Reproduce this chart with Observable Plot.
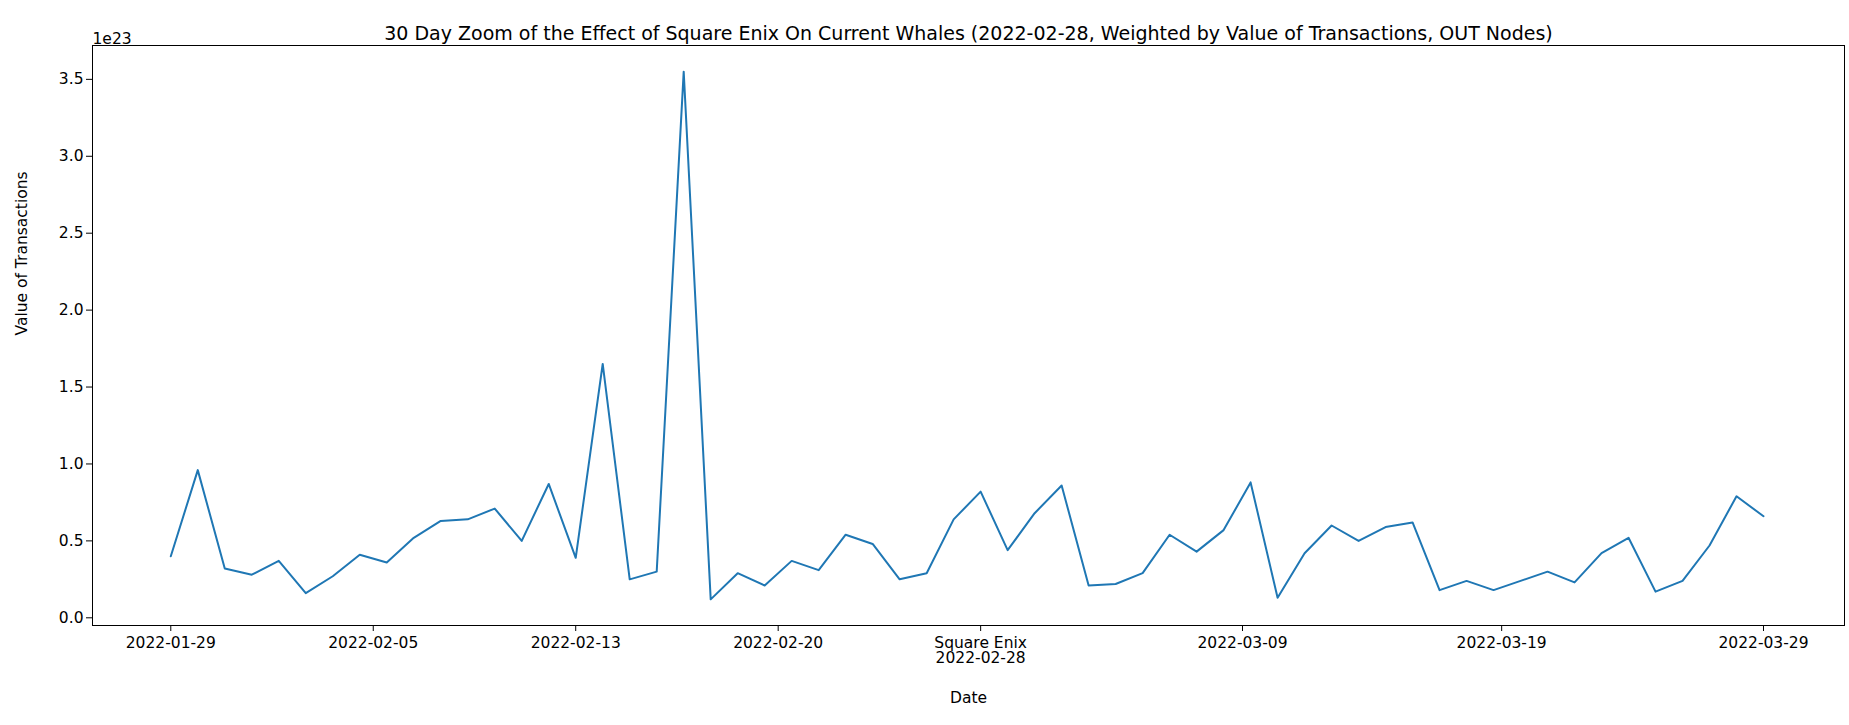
<!DOCTYPE html>
<html>
<head>
<meta charset="utf-8">
<script src="https://cdn.jsdelivr.net/npm/d3@7"></script>
<script src="https://cdn.jsdelivr.net/npm/@observablehq/plot@0.6"></script>
<style>
  body { margin: 0; background: #fff; }
  svg { font-family: "DejaVu Sans", sans-serif; }
</style>
</head>
<body>
<div id="chart"></div>
<script>
// daily values, 2022-01-29 .. 2022-03-29 (units of 1e23)
const values = [0.40, 0.96, 0.32, 0.28, 0.37, 0.16, 0.27, 0.41, 0.36, 0.52,
  0.63, 0.64, 0.71, 0.50, 0.87, 0.39, 1.65, 0.25, 0.30, 3.55,
  0.12, 0.29, 0.21, 0.37, 0.31, 0.54, 0.48, 0.25, 0.29, 0.64,
  0.82, 0.44, 0.68, 0.86, 0.21, 0.22, 0.29, 0.54, 0.43, 0.57,
  0.88, 0.13, 0.42, 0.60, 0.50, 0.59, 0.62, 0.18, 0.24, 0.18,
  0.24, 0.30, 0.23, 0.42, 0.52, 0.17, 0.24, 0.47, 0.79, 0.66];
const tickPos = [0, 7.5, 15, 22.5, 30, 39.7, 49.3, 59];
const tickLabels = ["2022-01-29", "2022-02-05", "2022-02-13", "2022-02-20",
  "Square Enix\n2022-02-28", "2022-03-09", "2022-03-19", "2022-03-29"];
const yTicks = [0, 0.5, 1, 1.5, 2, 2.5, 3, 3.5];

const data = values.map((v, i) => ({i, v}));

const chart = Plot.plot({
  width: 1849,
  height: 725,
  marginLeft: 92,
  marginRight: 5,
  marginTop: 45,
  marginBottom: 100,
  style: {fontSize: "15.5px", fontFamily: "DejaVu Sans, sans-serif", color: "#000"},
  x: {domain: [-2.9, 62.0], label: null, tickSize: 6},
  y: {domain: [-0.05, 3.72], label: null, tickSize: 6},
  marks: [
    Plot.frame({stroke: "#000"}),
    Plot.axisX({ticks: tickPos, tickFormat: (d, k) => tickLabels[k], lineAnchor: "top", tickPadding: 5, tickSize: 6, fontSize: 15.5}),
    Plot.axisY({ticks: yTicks, tickFormat: d => d.toFixed(1), tickSize: 6, fontSize: 15.5}),
    Plot.line(data, {x: "i", y: "v", stroke: "#1f77b4", strokeWidth: 2}),
    Plot.text(["30 Day Zoom of the Effect of Square Enix On Current Whales (2022-02-28, Weighted by Value of Transactions, OUT Nodes)"],
      {frameAnchor: "top", dy: -19, fontSize: 19, text: d => d}),
    Plot.text(["1e23"], {frameAnchor: "top-left", dy: -13, fontSize: 15.5, textAnchor: "start", text: d => d}),
    Plot.text(["Date"], {frameAnchor: "bottom", dy: 77, fontSize: 15.5, text: d => d}),
    Plot.text(["Value of Transactions"], {frameAnchor: "left", dx: -70, rotate: -90, fontSize: 15.5, text: d => d})
  ]
});
document.getElementById("chart").append(chart);
</script>
</body>
</html>
